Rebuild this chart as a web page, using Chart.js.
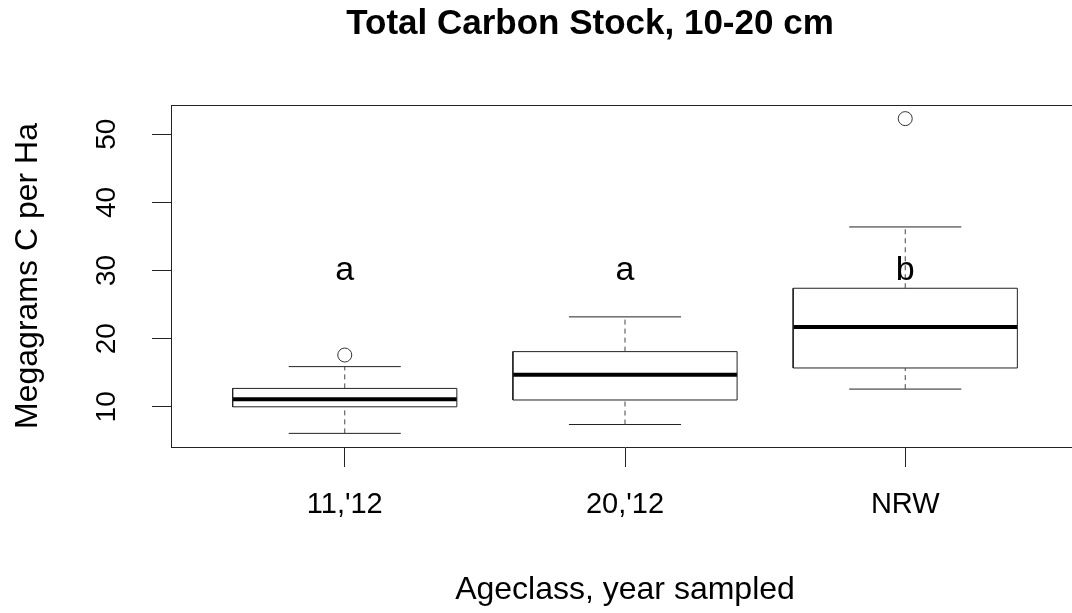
<!DOCTYPE html>
<html>
<head>
<meta charset="utf-8">
<script src="https://cdn.jsdelivr.net/npm/chart.js@4/dist/chart.umd.min.js"></script>
<style>
  html, body { margin: 0; padding: 0; background: #fff; overflow: hidden; }
  #wrap { width: 1072px; height: 613px; overflow: hidden; }
</style>
</head>
<body>
<div id="wrap"><canvas id="boxChart" width="1087" height="613"></canvas></div>
<script>
// box plot summary
const categories = ["11,'12", "20,'12", "NRW"];
const lowerWhisker = [6.1, 7.4, 12.6];
const q1 = [10.0, 11.0, 15.7];
const median = [11.1, 14.7, 21.7];
const q3 = [12.7, 18.1, 27.4];
const upperWhisker = [15.9, 23.2, 36.4];
const outliers = [[17.6], [], [52.3]];
const groupLetters = ['a', 'a', 'b'];
const letterLevel = 30;

const chartTitle = 'Total Carbon Stock, 10-20 cm';

const BOX_HALF = 0.4;
const CAP_HALF = 0.2;
const FONT = '"Liberation Sans", Arial, sans-serif';
const INK = '#222';

function segs(list) {
    // flatten segments into one line dataset, broken by null points
    const out = [];
    list.forEach(s => {
        out.push(...s);
        out.push({ x: s[0].x, y: null });
    });
    return out;
}

const boxPts = segs(categories.map((c, i) => {
    const x = i + 1;
    return [
        { x: x - BOX_HALF, y: q1[i] }, { x: x + BOX_HALF, y: q1[i] },
        { x: x + BOX_HALF, y: q3[i] }, { x: x - BOX_HALF, y: q3[i] },
        { x: x - BOX_HALF, y: q1[i] }
    ];
}));
const medianPts = segs(categories.map((c, i) => [
    { x: i + 1 - BOX_HALF, y: median[i] }, { x: i + 1 + BOX_HALF, y: median[i] }
]));
const whiskerPts = segs(categories.flatMap((c, i) => [
    [{ x: i + 1, y: q3[i] }, { x: i + 1, y: upperWhisker[i] }],
    [{ x: i + 1, y: lowerWhisker[i] }, { x: i + 1, y: q1[i] }]
]));
const capPts = segs(categories.flatMap((c, i) => [
    [{ x: i + 1 - CAP_HALF, y: upperWhisker[i] }, { x: i + 1 + CAP_HALF, y: upperWhisker[i] }],
    [{ x: i + 1 - CAP_HALF, y: lowerWhisker[i] }, { x: i + 1 + CAP_HALF, y: lowerWhisker[i] }]
]));
const outlierPts = outliers.flatMap((vals, i) => vals.map(v => ({ x: i + 1, y: v })));

const lineBase = { type: 'line', pointRadius: 0, spanGaps: false, tension: 0, fill: false };

// title, letters above boxes, top frame line
const extras = {
    id: 'extras',
    afterDatasetsDraw(chart) {
        const { ctx, chartArea, scales } = chart;
        ctx.save();
        ctx.strokeStyle = INK;
        ctx.lineWidth = 1;
        ctx.beginPath();
        ctx.moveTo(chartArea.left, chartArea.top + 0.5);
        ctx.lineTo(chartArea.right, chartArea.top + 0.5);
        ctx.lineTo(chartArea.right - 0.5, chartArea.bottom);
        ctx.stroke();

        ctx.fillStyle = '#000';
        ctx.textAlign = 'center';
        ctx.textBaseline = 'alphabetic';
        ctx.font = 'bold 35px ' + FONT;
        ctx.fillText(chartTitle, 590, 34);

        ctx.font = '34px ' + FONT;
        ctx.textBaseline = 'middle';
        groupLetters.forEach((t, i) => {
            ctx.fillText(t, scales.x.getPixelForValue(i + 1), scales.y.getPixelForValue(letterLevel));
        });
        ctx.restore();
    }
};

new Chart(document.getElementById('boxChart'), {
    type: 'line',
    data: {
        datasets: [
            { ...lineBase, data: whiskerPts, borderColor: '#444', borderWidth: 1, borderDash: [5, 4] },
            { ...lineBase, data: capPts, borderColor: INK, borderWidth: 1 },
            { ...lineBase, data: boxPts, borderColor: INK, borderWidth: 1 },
            { ...lineBase, data: medianPts, borderColor: '#000', borderWidth: 4, borderCapStyle: 'butt' },
            { type: 'scatter', data: outlierPts, showLine: false, pointRadius: 7, pointStyle: 'circle',
              borderColor: '#333', borderWidth: 1, backgroundColor: 'rgba(0,0,0,0)' }
        ]
    },
    options: {
        responsive: false,
        animation: false,
        layout: { padding: { left: 0, right: 2, top: 105, bottom: 0 } },
        plugins: {
            legend: { display: false },
            tooltip: { enabled: false },
            title: { display: false }
        },
        scales: {
            x: {
                type: 'linear',
                min: 0.38,
                max: 3.62,
                afterBuildTicks: (s) => { s.ticks = categories.map((c, i) => ({ value: i + 1 })); },
                afterFit: (s) => { s.height = 166; },
                ticks: {
                    color: '#000',
                    padding: 21,
                    maxRotation: 0,
                    font: { family: FONT, size: 29 },
                    callback: (v) => categories[v - 1]
                },
                grid: { drawOnChartArea: false, drawTicks: true, tickLength: 20, color: INK },
                border: { display: true, color: INK, width: 1 },
                title: {
                    display: true,
                    text: 'Ageclass, year sampled',
                    color: '#000',
                    font: { family: FONT, size: 32 },
                    padding: { top: 0, bottom: 4 }
                }
            },
            y: {
                min: 4.1,
                max: 54.3,
                afterFit: (s) => { s.width = 171; },
                ticks: {
                    stepSize: 10,
                    includeBounds: false,
                    minRotation: 90,
                    maxRotation: 90,
                    crossAlign: 'center',
                    padding: 29,
                    color: '#000',
                    font: { family: FONT, size: 28 }
                },
                grid: { drawOnChartArea: false, drawTicks: true, tickLength: 19, color: INK },
                border: { display: true, color: INK, width: 1 },
                title: {
                    display: true,
                    text: 'Megagrams C per Ha',
                    color: '#000',
                    font: { family: FONT, size: 32 },
                    padding: { top: 9, bottom: 0 }
                }
            }
        }
    },
    plugins: [extras]
});
</script>
</body>
</html>
